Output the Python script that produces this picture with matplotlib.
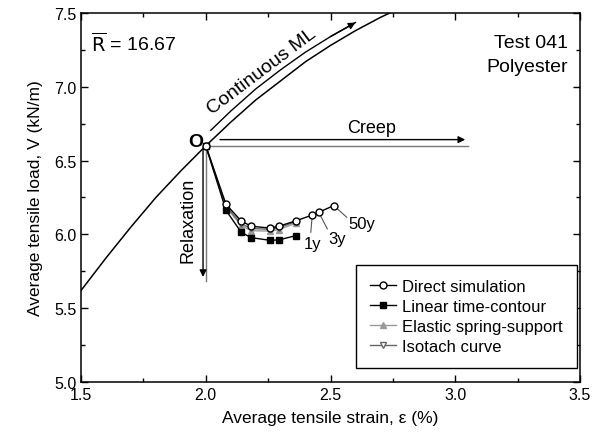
import matplotlib
matplotlib.use("Agg")
import matplotlib.pyplot as plt
from matplotlib.ticker import MultipleLocator

plt.rcParams['font.family'] = ['Liberation Sans', 'DejaVu Sans']

# ---- data ----
strain = [2.0, 2.081, 2.142, 2.182, 2.256, 2.292, 2.360]
direct_x = strain + [2.427, 2.453, 2.513]
direct_y = [6.60, 6.204, 6.091, 6.055, 6.043, 6.055, 6.091, 6.131, 6.150, 6.195]
linear_y = [6.60, 6.163, 6.014, 5.978, 5.960, 5.962, 5.991]
elastic_y = [6.60, 6.185, 6.060, 6.025, 6.022, 6.032, 6.075]
isotach_y = [6.60, 6.192, 6.072, 6.040, 6.034, 6.045, 6.085]

ml_x = [1.50, 1.60, 1.70, 1.80, 1.90, 2.00, 2.10, 2.20, 2.30, 2.40, 2.50, 2.60, 2.70, 2.75]
ml_y = [5.62, 5.84, 6.05, 6.25, 6.43, 6.60, 6.76, 6.91, 7.04, 7.17, 7.28, 7.38, 7.47, 7.51]

ml_arrow_x = [2.02, 2.10, 2.20, 2.30, 2.40, 2.50, 2.60]
ml_arrow_y = [6.705, 6.835, 6.985, 7.115, 7.235, 7.34, 7.435]

labels_years = ['1y', '3y', '50y']
years_pt = [(2.427, 6.131), (2.453, 6.150), (2.513, 6.195)]
years_end = [(2.421, 6.014), (2.487, 6.037), (2.565, 6.116)]
years_txt = [(2.429, 5.935), (2.525, 5.975), (2.625, 6.075)]

fig = plt.figure(figsize=(5.98, 4.39), dpi=100)
ax = fig.add_axes([0.1355, 0.1276, 0.8344, 0.8406])

# continuous ML curve
ax.plot(ml_x, ml_y, color='black', lw=1.1, zorder=2)
ax.plot(ml_arrow_x, ml_arrow_y, color='black', lw=1.0)
ax.annotate('', xy=(ml_arrow_x[-1], ml_arrow_y[-1]), xytext=(ml_arrow_x[-2], ml_arrow_y[-2]),
            arrowprops=dict(arrowstyle='-|>', color='black', lw=1.0, mutation_scale=10,
                            shrinkA=0, shrinkB=0))
ax.text(2.225, 7.105, 'Continuous ML', rotation=37, fontsize=14, ha='center', va='center',
        rotation_mode='anchor')

# creep
ax.plot([2.0, 3.05], [6.60, 6.60], color='#777777', lw=1.0)
ax.annotate('', xy=(3.04, 6.642), xytext=(2.057, 6.642),
            arrowprops=dict(arrowstyle='-|>', color='black', lw=1.0, mutation_scale=10,
                            shrinkA=0, shrinkB=0))
ax.text(2.665, 6.725, 'Creep', fontsize=13, ha='center', va='center')

# relaxation
ax.plot([2.0, 2.0], [6.60, 5.684], color='#777777', lw=1.0)
ax.annotate('', xy=(1.989, 5.711), xytext=(1.989, 6.575),
            arrowprops=dict(arrowstyle='-|>', color='black', lw=1.0, mutation_scale=10,
                            shrinkA=0, shrinkB=0))
ax.text(1.929, 6.10, 'Relaxation', rotation=90, fontsize=13, ha='center', va='center')

ax.text(1.962, 6.632, 'O', fontsize=14, fontweight='bold', ha='center', va='center')

# series
ax.plot(strain, elastic_y, color='#999999', lw=1.0, marker='^', ms=4.5,
        mfc='#999999', mec='#999999', label='Elastic spring-support', zorder=3)
ax.plot(strain, isotach_y, color='#666666', lw=1.0, marker='v', ms=4.5,
        mfc='white', mec='#666666', label='Isotach curve', zorder=3)
ax.plot(strain, linear_y, color='black', lw=1.0, marker='s', ms=4,
        mfc='black', mec='black', label='Linear time-contour', zorder=4)
ax.plot(direct_x, direct_y, color='black', lw=1.0, marker='o', ms=5,
        mfc='white', mec='black', label='Direct simulation', zorder=5)

for lab, p, e, t in zip(labels_years, years_pt, years_end, years_txt):
    ax.plot([p[0], e[0]], [p[1], e[1]], color='#555555', lw=0.8)
    ax.text(t[0], t[1], lab, fontsize=12, ha='center', va='center')

ax.text(1.54, 7.30, r'$\overline{\mathrm{R}}$ = 16.67', fontsize=14, ha='left', va='center')
ax.text(3.45, 7.30, 'Test 041', fontsize=14, ha='right', va='center')
ax.text(3.45, 7.14, 'Polyester', fontsize=14, ha='right', va='center')

h, l = ax.get_legend_handles_labels()
order = [3, 2, 0, 1]
leg = ax.legend([h[i] for i in order], [l[i] for i in order], loc='lower right',
                bbox_to_anchor=(0.994, 0.038), fontsize=12, frameon=True, fancybox=False,
                edgecolor='black', framealpha=1, handlelength=1.6, handletextpad=0.35,
                borderpad=0.85, labelspacing=0.3, borderaxespad=0)
leg.get_frame().set_linewidth(1.0)

ax.set_xlim(1.5, 3.5)
ax.set_ylim(5.0, 7.5)
ax.xaxis.set_major_locator(MultipleLocator(0.5))
ax.xaxis.set_minor_locator(MultipleLocator(0.25))
ax.yaxis.set_major_locator(MultipleLocator(0.5))
ax.yaxis.set_minor_locator(MultipleLocator(0.25))
ax.xaxis.set_major_formatter(plt.FormatStrFormatter('%.1f'))
ax.yaxis.set_major_formatter(plt.FormatStrFormatter('%.1f'))
ax.tick_params(which='both', direction='in', top=True, right=True, labelsize=11.5)
ax.tick_params(which='major', length=5, width=1)
ax.tick_params(which='minor', length=3, width=1)
for s in ax.spines.values():
    s.set_linewidth(1.1)

ax.set_xlabel('Average tensile strain, ε (%)', fontsize=12.5, labelpad=6)
ax.set_ylabel('Average tensile load, V (kN/m)', fontsize=12.5, labelpad=8)

fig.savefig('out.png', dpi=100)
